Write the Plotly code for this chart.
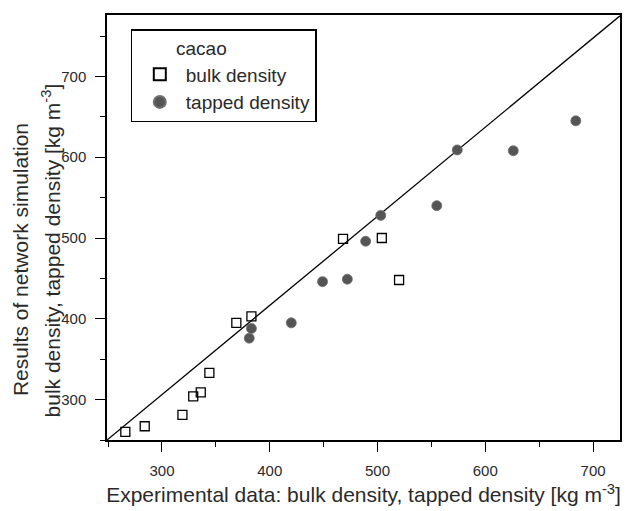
import plotly.graph_objects as go

# Data
bulk_x = [266, 284, 319, 329, 336, 344, 369, 383, 468, 504, 520]
bulk_y = [260, 267, 281, 304, 309, 333, 395, 403, 499, 500, 448]
tapped_x = [381, 383, 420, 449, 472, 489, 503, 555, 574, 626, 684]
tapped_y = [376, 388, 395, 446, 449, 496, 528, 540, 609, 608, 645]
line_x = [249, 725]
line_y = [250, 775]

x_range = [249, 725]
y_range = [250, 776]
tick_vals = [300, 400, 500, 600, 700]

FONT = "Arial, Liberation Sans, sans-serif"
TXT = "#2a2a2a"

fig = go.Figure()
fig.add_trace(go.Scatter(x=line_x, y=line_y, mode="lines",
                         line=dict(color="black", width=1.3),
                         showlegend=False, hoverinfo="skip"))
fig.add_trace(go.Scatter(x=bulk_x, y=bulk_y, mode="markers", name="bulk density",
                         marker=dict(symbol="square-open", size=9, color="black",
                                     line=dict(width=1.3))))
fig.add_trace(go.Scatter(x=tapped_x, y=tapped_y, mode="markers", name="tapped density",
                         marker=dict(symbol="circle", size=10, color="#555555",
                                     line=dict(width=0.8, color="#707070"))))

axis_common = dict(
    showline=True, linecolor="black", linewidth=1.5, mirror=True,
    showgrid=False, zeroline=False,
    ticks="outside", ticklen=10, tickwidth=1.2, tickcolor="black",
    tickfont=dict(family=FONT, size=15, color=TXT),
    tickvals=tick_vals,
    minor=dict(ticks="outside", ticklen=5, tickwidth=1.2, tickcolor="black", dtick=50),
)

fig.update_xaxes(range=x_range, ticklabelstandoff=6,
                 title=dict(text="Experimental data: bulk density, tapped density [kg m<sup>-3</sup>]",
                            font=dict(family=FONT, size=21, color=TXT), standoff=10),
                 **axis_common)
fig.update_yaxes(range=y_range, ticklabelstandoff=6, **axis_common)

fig.add_annotation(text="Results of network simulation", textangle=-90,
                   xref="paper", yref="paper", x=-0.169, y=0.424,
                   xanchor="center", yanchor="middle", showarrow=False,
                   font=dict(family=FONT, size=21, color=TXT))
fig.add_annotation(text="bulk density, tapped density [kg m<sup>-3</sup>]", textangle=-90,
                   xref="paper", yref="paper", x=-0.11, y=0.445,
                   xanchor="center", yanchor="middle", showarrow=False,
                   font=dict(family=FONT, size=21, color=TXT))

fig.update_layout(
    width=626, height=511,
    margin=dict(l=107, r=4, t=15, b=71),
    paper_bgcolor="white", plot_bgcolor="white",
    font=dict(family=FONT, color=TXT),
    legend=dict(x=0.046, y=0.966, xanchor="left", yanchor="top",
                bordercolor="black", borderwidth=1.2, bgcolor="white",
                font=dict(family=FONT, size=19, color=TXT),
                title=dict(text="&nbsp;&nbsp;&nbsp;&nbsp;&nbsp;&nbsp;&nbsp;&nbsp;cacao", font=dict(family=FONT, size=19, color=TXT)),
                indentation=2, itemwidth=42, tracegroupgap=0, itemsizing="constant"),
)

fig.write_html("out.html")
